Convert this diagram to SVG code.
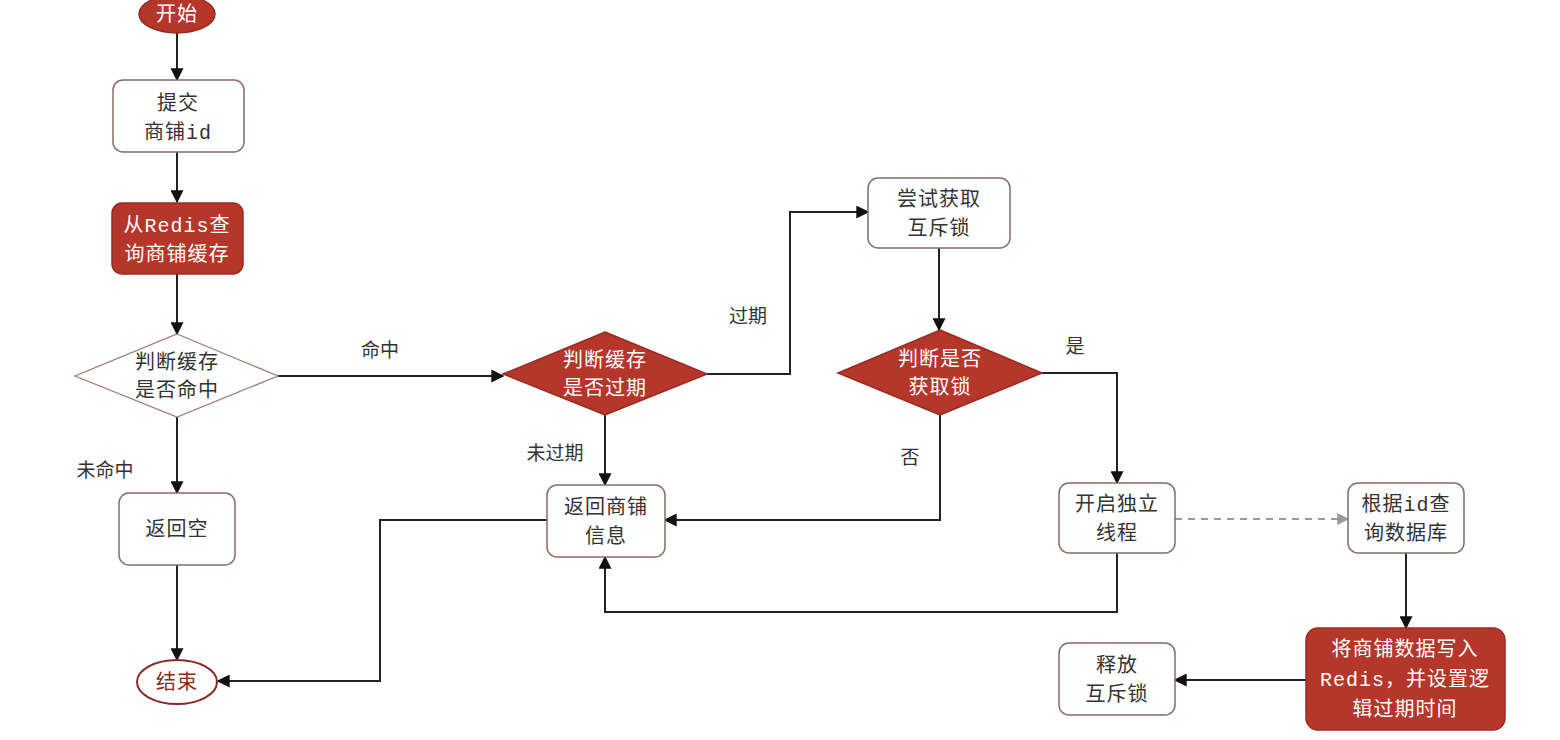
<svg xmlns="http://www.w3.org/2000/svg" width="1560" height="740" viewBox="0 0 1560 740">
<style>
.box{fill:#fff;stroke:#8a6a6a;stroke-width:1.5}
.red{fill:#b5362b;stroke:#9a2a20;stroke-width:1.5}
.dia{fill:#fff;stroke:#a07878;stroke-width:1.2}
.t{font-family:"Liberation Mono","Noto Sans CJK SC",monospace;font-size:20px;fill:#333;text-anchor:middle;letter-spacing:1px}
.w{fill:#fff}
.lbl{font-family:"Liberation Mono","Noto Sans CJK SC",monospace;font-size:19px;fill:#333;text-anchor:middle}
.c{fill:none;stroke:#222;stroke-width:2}
.d{fill:none;stroke:#999;stroke-width:2;stroke-dasharray:7 6}
</style>
<defs>
<marker id="a" viewBox="0 0 10 10" refX="9" refY="5" markerWidth="7" markerHeight="7" orient="auto" markerUnits="userSpaceOnUse"><path d="M0,0 L10,5 L0,10 z" fill="#111"/></marker>
<marker id="ag" viewBox="0 0 10 10" refX="9" refY="5" markerWidth="12" markerHeight="12" orient="auto" markerUnits="userSpaceOnUse"><path d="M0,0 L10,5 L0,10 z" fill="#999"/></marker>
<marker id="ab" viewBox="0 0 10 10" refX="9" refY="5" markerWidth="13" markerHeight="13" orient="auto" markerUnits="userSpaceOnUse"><path d="M0,0 L10,5 L0,10 z" fill="#111"/></marker>
</defs>
<rect width="1560" height="740" fill="#fff"/>
<g id="connectors">
<path class="c" d="M177,33 V80" marker-end="url(#ab)"/>
<path class="c" d="M177,152 V202" marker-end="url(#ab)"/>
<path class="c" d="M177,274 V334" marker-end="url(#ab)"/>
<path class="c" d="M278,376 H503" marker-end="url(#ab)"/>
<path class="c" d="M177,417 V493" marker-end="url(#ab)"/>
<path class="c" d="M177,565 V660" marker-end="url(#ab)"/>
<path class="c" d="M707,374 H790 V212 H868" marker-end="url(#ab)"/>
<path class="c" d="M939,248 V330" marker-end="url(#ab)"/>
<path class="c" d="M605,415 V485" marker-end="url(#ab)"/>
<path class="c" d="M940,415 V520 H665" marker-end="url(#ab)"/>
<path class="c" d="M1042,373 H1117 V483" marker-end="url(#ab)"/>
<path class="c" d="M547,520 H380 V681 H218" marker-end="url(#ab)"/>
<path class="c" d="M1117,553 V612 H605 V557" marker-end="url(#ab)"/>
<path class="d" d="M1175,519 H1348" marker-end="url(#ag)"/>
<path class="c" d="M1406,553 V628" marker-end="url(#ab)"/>
<path class="c" d="M1306,680 H1175" marker-end="url(#ab)"/>
<text class="lbl" x="380" y="357">命中</text>
<text class="lbl" x="105" y="477">未命中</text>
<text class="lbl" x="748" y="323">过期</text>
<text class="lbl" x="555" y="460">未过期</text>
<text class="lbl" x="1075" y="353">是</text>
<text class="lbl" x="910" y="464">否</text>
</g>
<g id="start"><ellipse class="red" cx="177" cy="14" rx="38" ry="19"/><text class="t w" x="177" y="21">开始</text></g>
<g id="submit"><rect class="box" x="113" y="80" width="131" height="72" rx="10"/><text class="t" x="178" y="110">提交</text><text class="t" x="178" y="139">商铺id</text></g>
<g id="query"><rect class="red" x="112" y="203" width="131" height="71" rx="10"/><text class="t w" x="177" y="232">从Redis查</text><text class="t w" x="177" y="261">询商铺缓存</text></g>
<g id="hit"><polygon class="dia" points="177,334 278,376 177,417 75,376"/><text class="t" x="177" y="369">判断缓存</text><text class="t" x="177" y="397">是否命中</text></g>
<g id="empty"><rect class="box" x="119" y="493" width="116" height="72" rx="10"/><text class="t" x="177" y="536">返回空</text></g>
<g id="end"><ellipse cx="177" cy="682" rx="40" ry="22" fill="#fff" stroke="#8a2a22" stroke-width="2"/><text class="t" x="177" y="689" fill="#8a2a22" style="fill:#8a2a22">结束</text></g>
<g id="expire"><polygon class="red" points="605,332 707,374 605,415 503,374"/><text class="t w" x="605" y="367">判断缓存</text><text class="t w" x="605" y="395">是否过期</text></g>
<g id="return"><rect class="box" x="547" y="485" width="118" height="72" rx="10"/><text class="t" x="606" y="514">返回商铺</text><text class="t" x="606" y="543">信息</text></g>
<g id="trylock"><rect class="box" x="868" y="178" width="142" height="70" rx="10"/><text class="t" x="939" y="206">尝试获取</text><text class="t" x="939" y="235">互斥锁</text></g>
<g id="getlock"><polygon class="red" points="940,330 1042,373 940,415 838,373"/><text class="t w" x="940" y="366">判断是否</text><text class="t w" x="940" y="394">获取锁</text></g>
<g id="thread"><rect class="box" x="1059" y="483" width="116" height="70" rx="10"/><text class="t" x="1117" y="511">开启独立</text><text class="t" x="1117" y="540">线程</text></g>
<g id="db"><rect class="box" x="1348" y="483" width="116" height="70" rx="10"/><text class="t" x="1406" y="511">根据id查</text><text class="t" x="1406" y="540">询数据库</text></g>
<g id="write"><rect class="red" x="1306" y="628" width="199" height="102" rx="12"/><text class="t w" x="1405" y="656">将商铺数据写入</text><text class="t w" x="1405" y="686">Redis，并设置逻</text><text class="t w" x="1405" y="716">辑过期时间</text></g>
<g id="release"><rect class="box" x="1059" y="643" width="116" height="72" rx="10"/><text class="t" x="1117" y="672">释放</text><text class="t" x="1117" y="701">互斥锁</text></g>
</svg>
